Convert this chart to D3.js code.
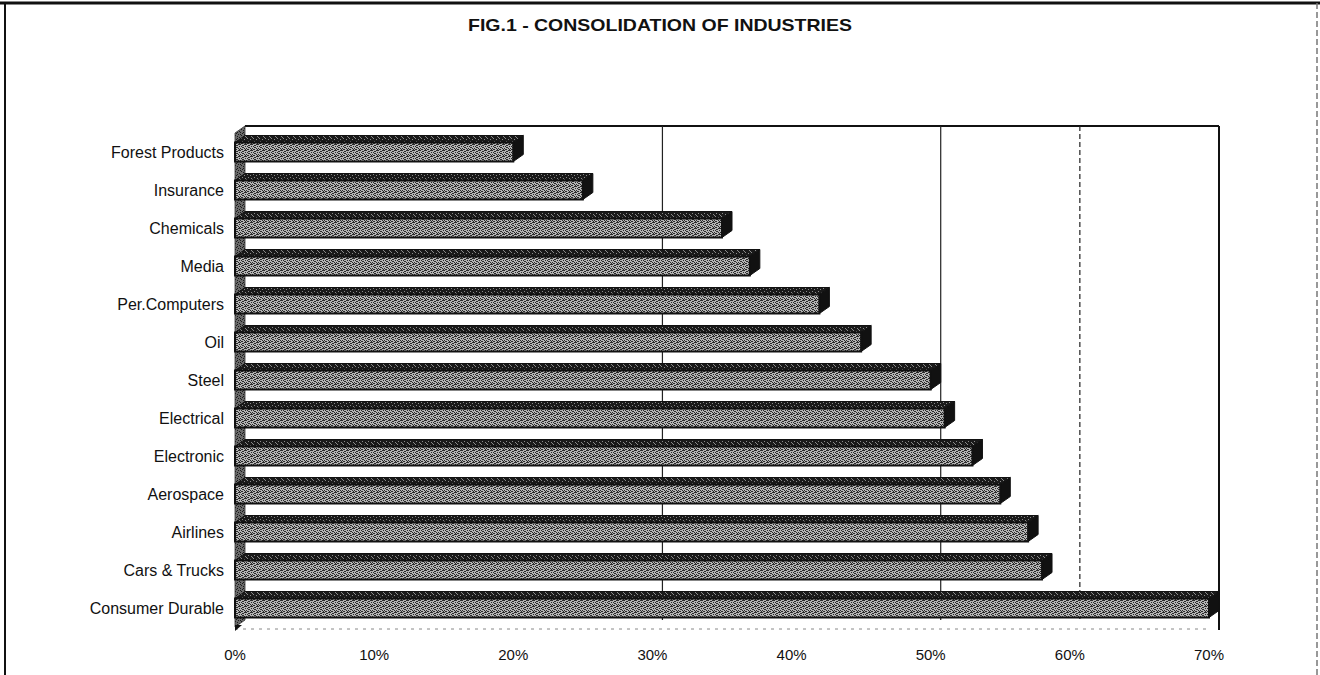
<!DOCTYPE html>
<html>
<head>
<meta charset="utf-8">
<script src="https://cdn.jsdelivr.net/npm/d3@7"></script>
<style>
  html, body { margin: 0; padding: 0; background: #fff; }
  svg { display: block; font-family: "Liberation Sans", Arial, sans-serif; }
</style>
</head>
<body>
<svg id="chart" width="1320" height="675"></svg>
<script>
// ---- data ----
const categories = ["Forest Products", "Insurance", "Chemicals", "Media", "Per.Computers", "Oil",
  "Steel", "Electrical", "Electronic", "Aerospace", "Airlines", "Cars & Trucks", "Consumer Durable"];
const values = [0.20, 0.25, 0.35, 0.37, 0.42, 0.45, 0.50, 0.51, 0.53, 0.55, 0.57, 0.58, 0.70];
const tickValues = [0, 0.1, 0.2, 0.3, 0.4, 0.5, 0.6, 0.7];
const gridValues = [0.3, 0.5, 0.6];
const chartTitle = "FIG.1 - CONSOLIDATION OF INDUSTRIES";

// ---- layout ----
const svg = d3.select("#chart");
const W = 1320, H = 675;
const dx = 10, dy = -7;           // 3D depth offset
const plotTop = 133, plotBottom = 627;
const x = d3.scaleLinear().domain([0, 0.7]).range([235, 1209]);
const y = d3.scaleBand().domain(categories).range([plotTop, plotBottom]).paddingInner(0.5).paddingOuter(0.25);

// ---- textures ----
const defs = svg.append("defs");
function speckle(id, base, dot, cells) {
  const p = defs.append("pattern").attr("id", id).attr("patternUnits", "userSpaceOnUse")
    .attr("width", 6).attr("height", 6);
  p.append("rect").attr("width", 6).attr("height", 6).attr("fill", base);
  cells.forEach(([cx, cy]) => p.append("rect").attr("x", cx).attr("y", cy)
    .attr("width", 1).attr("height", 1).attr("fill", dot));
}
speckle("frontTex", "#b4b4b4", "#2a2a2a",
  [[0,0],[2,1],[4,0],[1,2],[3,3],[5,2],[0,4],[2,5],[4,4],[5,5],[1,5],[3,1],[5,0],[2,3]]);
speckle("topTex", "#1a1a1a", "#8a8a8a",
  [[1,0],[4,1],[2,3],[5,4],[0,5]]);
speckle("wallTex", "#6a6a6a", "#1a1a1a",
  [[0,0],[2,1],[4,2],[1,3],[3,4],[5,5],[0,2],[3,0]]);

// ---- frame ----
svg.append("line").attr("x1", 0).attr("x2", W).attr("y1", 3).attr("y2", 3)
  .attr("stroke", "#111").attr("stroke-width", 3);
svg.append("line").attr("x1", 5).attr("x2", 5).attr("y1", 3).attr("y2", H)
  .attr("stroke", "#111").attr("stroke-width", 2);
svg.append("line").attr("x1", 1317).attr("x2", 1317).attr("y1", 3).attr("y2", H)
  .attr("stroke", "#777").attr("stroke-width", 1.5).attr("stroke-dasharray", "6,3");

// ---- title ----
svg.append("text").attr("x", 660).attr("y", 31).attr("text-anchor", "middle")
  .attr("font-weight", "bold").attr("font-size", 17)
  .attr("textLength", 384).attr("lengthAdjust", "spacingAndGlyphs")
  .attr("fill", "#111").text(chartTitle);

// ---- walls ----
svg.append("line").attr("x1", x(0) + dx).attr("x2", x(0.7) + dx)
  .attr("y1", plotTop + dy).attr("y2", plotTop + dy).attr("stroke", "#111").attr("stroke-width", 2);
svg.append("line").attr("x1", x(0.7) + dx).attr("x2", x(0.7) + dx)
  .attr("y1", plotTop + dy).attr("y2", plotBottom + 3).attr("stroke", "#111").attr("stroke-width", 2);
svg.selectAll(".grid").data(gridValues).join("line").attr("class", "grid")
  .attr("x1", d => x(d) + dx).attr("x2", d => x(d) + dx)
  .attr("y1", plotTop + dy).attr("y2", plotBottom + dy)
  .attr("stroke", "#222").attr("stroke-width", 1.2)
  .attr("stroke-dasharray", d => d === 0.6 ? "5,3" : null);
svg.append("path")
  .attr("d", `M${x(0)},${plotTop} L${x(0) + dx},${plotTop + dy} L${x(0) + dx},${plotBottom + dy} L${x(0)},${plotBottom} Z`)
  .attr("fill", "url(#wallTex)").attr("stroke", "#333").attr("stroke-width", 0.8);
svg.append("line").attr("x1", x(0)).attr("x2", x(0.7)).attr("y1", plotBottom + 2).attr("y2", plotBottom + 2)
  .attr("stroke", "#888").attr("stroke-width", 1).attr("stroke-dasharray", "3,5");
svg.append("path")
  .attr("d", `M${x(0)},${plotBottom + 4} L${x(0) + dx - 3},${plotBottom - 2} L${x(0)},${plotBottom - 2} Z`)
  .attr("fill", "#111");

// ---- bars ----
const bars = svg.append("g").selectAll("g").data(categories).join("g");
const h = y.bandwidth();
bars.append("path")
  .attr("d", (c, i) => {
    const x0 = x(0), x1 = x(values[i]), y0 = y(c);
    return `M${x0},${y0} L${x1},${y0} L${x1 + dx},${y0 + dy} L${x0 + dx},${y0 + dy} Z`;
  })
  .attr("fill", "url(#topTex)").attr("stroke", "#111").attr("stroke-width", 1);
bars.append("path")
  .attr("d", (c, i) => {
    const x1 = x(values[i]), y0 = y(c);
    return `M${x1},${y0} L${x1 + dx},${y0 + dy} L${x1 + dx},${y0 + h + dy} L${x1},${y0 + h} Z`;
  })
  .attr("fill", "#111").attr("stroke", "#111").attr("stroke-width", 1);
bars.append("rect")
  .attr("x", x(0)).attr("y", c => y(c))
  .attr("width", (c, i) => x(values[i]) - x(0)).attr("height", h)
  .attr("fill", "url(#frontTex)").attr("stroke", "#111").attr("stroke-width", 2);

// ---- category labels ----
svg.append("g").selectAll("text").data(categories).join("text")
  .attr("x", 224).attr("y", c => y(c) + h / 2).attr("dy", "0.35em")
  .attr("text-anchor", "end").attr("font-size", 16).attr("fill", "#111").text(c => c);

// ---- x axis labels ----
svg.append("g").selectAll("text").data(tickValues).join("text")
  .attr("x", d => x(d)).attr("y", 660).attr("text-anchor", "middle")
  .attr("font-size", 15).attr("fill", "#111").text(d3.format(".0%"));
</script>
</body>
</html>
